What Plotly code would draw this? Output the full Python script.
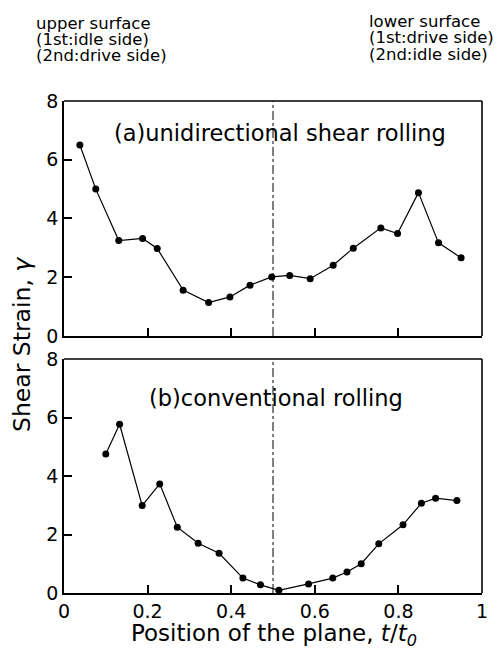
import plotly.graph_objects as go

# ---- data ----
x_a = [0.038, 0.076, 0.131, 0.188, 0.223, 0.285, 0.346, 0.397, 0.445, 0.497,
       0.540, 0.589, 0.644, 0.692, 0.758, 0.798, 0.848, 0.896, 0.950]
y_a = [6.5, 5.0, 3.25, 3.32, 2.98, 1.56, 1.14, 1.33, 1.73, 2.01,
       2.06, 1.95, 2.41, 2.99, 3.68, 3.49, 4.88, 3.17, 2.66]

x_b = [0.100, 0.133, 0.187, 0.229, 0.271, 0.321, 0.371, 0.428, 0.470, 0.514,
       0.585, 0.643, 0.677, 0.711, 0.753, 0.811, 0.855, 0.889, 0.940]
y_b = [4.75, 5.77, 2.99, 3.73, 2.25, 1.70, 1.36, 0.51, 0.28, 0.09,
       0.31, 0.51, 0.72, 1.00, 1.68, 2.33, 3.07, 3.24, 3.16]

x_tick_vals = [0, 0.2, 0.4, 0.6, 0.8, 1]
y_tick_vals = [0, 2, 4, 6, 8]

panel_labels = ["(a)unidirectional shear rolling", "(b)conventional rolling"]
header_left = ["upper surface", "(1st:idle side)", "(2nd:drive side)"]
header_right = ["lower surface", "(1st:drive side)", "(2nd:idle side)"]
x_title = "Position of the plane, <i>t</i>/<i>t</i><sub><i>0</i></sub>"
y_title = "Shear Strain, <i>γ</i>"

FONT = "DejaVu Sans, sans-serif"
BLACK = "#000000"

# page body has an 8px margin; size the figure so the plot lands where the reference has it
W, H = 493, 641
ML, MR, MT, MB = 56, 19, 93, 56
PW, PH = W - ML - MR, H - MT - MB
OX, OY = 8 + ML, 8 + MT


def px2paper(px, py):
    return (px - OX) / PW, 1 - (py - OY) / PH


fig = go.Figure()
line_style = dict(color=BLACK, width=1.2)
marker_style = dict(size=7, color=BLACK)
fig.add_trace(go.Scatter(x=x_a, y=y_a, xaxis="x", yaxis="y", mode="lines+markers",
                         line=line_style, marker=marker_style, showlegend=False))
fig.add_trace(go.Scatter(x=x_b, y=y_b, xaxis="x2", yaxis="y2", mode="lines+markers",
                         line=line_style, marker=marker_style, showlegend=False))

dx = x_tick_vals[1] - x_tick_vals[0]
dy = y_tick_vals[1] - y_tick_vals[0]

xa = dict(range=[x_tick_vals[0], x_tick_vals[-1]], dtick=dx, ticks="inside", ticklen=8,
          tickwidth=2, tickcolor=BLACK, showline=True, linecolor=BLACK, linewidth=1.6,
          showgrid=False, zeroline=False,
          tickfont=dict(family=FONT, size=19, color=BLACK))
ya = dict(range=[y_tick_vals[0], y_tick_vals[-1]], dtick=dy, ticks="inside", ticklen=8,
          tickwidth=2, tickcolor=BLACK, showline=True, linecolor=BLACK, linewidth=1.6,
          showgrid=False, zeroline=False,
          tickfont=dict(family=FONT, size=19, color=BLACK))

fig.update_layout(
    width=W, height=H,
    margin=dict(l=ML, r=MR, t=MT, b=MB),
    paper_bgcolor="white", plot_bgcolor="white",
    font=dict(family=FONT, color=BLACK),
    xaxis=dict(xa, anchor="y", domain=[0, 1], showticklabels=False),
    yaxis=dict(ya, anchor="x", domain=[0.5224, 1]),
    xaxis2=dict(xa, anchor="y2", domain=[0, 1]),
    yaxis2=dict(ya, anchor="x2", domain=[0, 0.4756]),
)

for xr_, yr_ in [("x", "y"), ("x2", "y2")]:
    # closing frame (top and right edges of each panel)
    fig.add_shape(type="line", xref=f"{xr_} domain", yref=f"{yr_} domain", x0=0, x1=1, y0=1, y1=1,
                  line=dict(color=BLACK, width=1.6), layer="above")
    fig.add_shape(type="line", xref=f"{xr_} domain", yref=f"{yr_} domain", x0=1, x1=1, y0=0, y1=1,
                  line=dict(color=BLACK, width=1.6), layer="above")
    # dash-dot mid-thickness line
    fig.add_shape(type="line", xref=xr_, yref=yr_, x0=0.5, x1=0.5,
                  y0=y_tick_vals[0], y1=y_tick_vals[-1],
                  line=dict(color=BLACK, width=1, dash="dashdot"))

fig.add_annotation(text=panel_labels[0], xref="x", yref="y", x=0.517, y=6.91,
                   showarrow=False, font=dict(family=FONT, size=22.5, color=BLACK))
fig.add_annotation(text=panel_labels[1], xref="x2", yref="y2", x=0.507, y=6.67,
                   showarrow=False, font=dict(family=FONT, size=22.5, color=BLACK))

tx, ty = px2paper(274, 635)
fig.add_annotation(text=x_title, xref="paper", yref="paper", x=tx, y=ty,
                   xanchor="center", yanchor="middle", showarrow=False,
                   font=dict(family=FONT, size=23, color=BLACK))
tx, ty = px2paper(22, 345)
fig.add_annotation(text=y_title, xref="paper", yref="paper", x=tx, y=ty, textangle=-90,
                   xanchor="center", yanchor="middle", showarrow=False,
                   font=dict(family=FONT, size=23.5, color=BLACK))

for i, (tl, tr) in enumerate(zip(header_left, header_right)):
    lx, ly = px2paper(34, 23 + 16.5 * i)
    fig.add_annotation(text=tl, xref="paper", yref="paper", x=lx, y=ly,
                       xanchor="left", yanchor="middle", showarrow=False,
                       font=dict(family=FONT, size=16.5, color=BLACK))
    rx, ry = px2paper(367, 21 + 16.5 * i)
    fig.add_annotation(text=tr, xref="paper", yref="paper", x=rx, y=ry,
                       xanchor="left", yanchor="middle", showarrow=False,
                       font=dict(family=FONT, size=16.5, color=BLACK))

fig.write_html("out.html")
